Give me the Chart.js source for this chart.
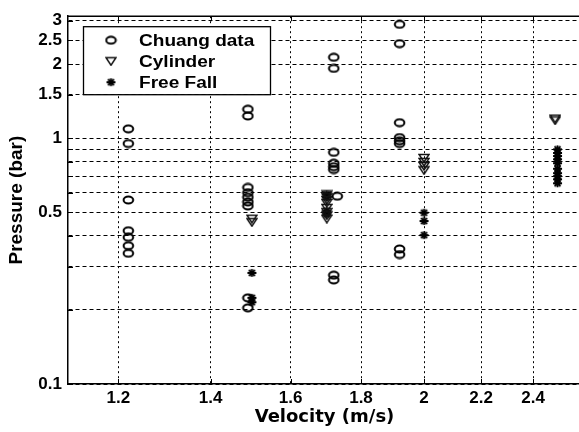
<!DOCTYPE html>
<html><head><meta charset="utf-8">
<script src="https://cdn.jsdelivr.net/npm/chart.js@4/dist/chart.umd.min.js"></script>
<style>html,body{margin:0;padding:0;background:#fff;overflow:hidden;width:579px;height:432px}canvas{display:block}</style>
</head><body>
<canvas id="c" width="600" height="432" style="width:600px;height:432px"></canvas>
<script>
// ---- data (velocity m/s, pressure bar) ----
const chuangVel  = [1.22,1.22,1.22,1.22,1.22,1.22,1.22,
                    1.49,1.49,1.49,1.49,1.49,1.49,1.49,1.49,1.49,
                    1.72,1.72,1.72,1.72,1.72,1.72,1.73,1.72,1.72,
                    1.92,1.92,1.92,1.92,1.92,1.92,1.92,1.92];
const chuangPres = [1.09,0.95,0.56,0.42,0.395,0.365,0.34,
                    1.31,1.23,0.63,0.60,0.575,0.55,0.53,0.224,0.204,
                    2.13,1.92,0.875,0.79,0.765,0.745,0.58,0.277,0.265,
                    2.90,2.42,1.155,1.005,0.975,0.95,0.354,0.336];
const cylVel  = [1.5,1.5, 1.7,1.7,1.7,1.7,1.7,1.7,1.7,1.7, 2.0,2.0,2.0,2.0, 2.49,2.49];
const cylPres = [0.47,0.455, 0.59,0.575,0.56,0.545,0.52,0.50,0.485,0.47, 0.83,0.80,0.77,0.74, 1.20,1.18];
const ffVel  = [1.5,1.5,1.5, 1.7,1.7,1.7,1.7, 2.0,2.0,2.0, 2.5,2.5,2.5,2.5,2.5,2.5,2.5,2.5,2.5,2.5];
const ffPres = [0.283,0.224,0.215, 0.59,0.575,0.505,0.49, 0.497,0.46,0.403, 0.90,0.87,0.845,0.82,0.79,0.75,0.72,0.70,0.68,0.655];
const seriesNames = ['Chuang data','Cylinder','Free Fall'];
const xTickValues = [1.2,1.4,1.6,1.8,2,2.2,2.4];
const xTickLabels = ['1.2','1.4','1.6','1.8','2','2.2','2.4'];
const yTickValues = [0.1,0.2,0.3,0.4,0.5,0.6,0.7,0.8,0.9,1,1.5,2,2.5,3];
const yTickLabels = ['0.1','','','','0.5','','','','','1','1.5','2','2.5','3'];

// ---- marker images ----
function mk(w,h,draw){const c=document.createElement('canvas');c.width=w;c.height=h;const g=c.getContext('2d');draw(g);return c;}
const circleMarker = mk(13,10,g=>{g.strokeStyle='#000';g.lineWidth=2;g.beginPath();g.ellipse(6.5,5,4.8,3.5,0,0,Math.PI*2);g.stroke();});
const triMarker = mk(12,10,g=>{g.strokeStyle='#111';g.lineWidth=1.5;g.beginPath();g.moveTo(1,1.5);g.lineTo(11,1.5);g.lineTo(6,9);g.closePath();g.stroke();});
const starMarker = mk(11,10,g=>{g.strokeStyle='#000';g.lineWidth=1.8;g.beginPath();
  g.moveTo(1,5);g.lineTo(10,5);g.moveTo(5.5,1);g.lineTo(5.5,9);
  g.moveTo(2.5,2);g.lineTo(8.5,8);g.moveTo(8.5,2);g.lineTo(2.5,8);g.stroke();});
const markers = [circleMarker, triMarker, starMarker];

const pts = (xs,ys)=>xs.map((v,i)=>({x:v,y:ys[i]}));
const FONT = '"Liberation Sans", Arial, sans-serif';

const frame = {
  id:'frame',
  afterDraw(chart){
    const {ctx, chartArea:a, scales:{x,y}} = chart;
    ctx.save();
    ctx.strokeStyle='#000'; ctx.lineWidth=1.5;
    ctx.beginPath(); ctx.moveTo(a.left,a.top); ctx.lineTo(a.right,a.top); ctx.stroke();
    ctx.lineWidth=1;
    ctx.beginPath();
    xTickValues.forEach(v=>{const p=Math.round(x.getPixelForValue(v))+0.5;
      ctx.moveTo(p,a.bottom); ctx.lineTo(p,a.bottom-5); ctx.moveTo(p,a.top); ctx.lineTo(p,a.top+5);});
    yTickValues.forEach(v=>{const p=Math.round(y.getPixelForValue(v))+0.5;
      ctx.moveTo(a.left,p); ctx.lineTo(a.left+5,p);});
    ctx.stroke();
    // legend
    const L=a.left+15, T=a.top+10, W=187, H=68;
    ctx.fillStyle='#fff'; ctx.fillRect(L,T,W,H);
    ctx.strokeStyle='#000'; ctx.lineWidth=1.3; ctx.strokeRect(L+0.5,T+0.5,W,H);
    seriesNames.forEach((name,i)=>{
      const cy=T+14+i*21;
      const m=markers[i];
      ctx.drawImage(m, L+28-m.width/2, cy-m.height/2);
      ctx.save(); ctx.translate(L+56,cy+1); ctx.scale(1.19,1);
      ctx.fillStyle='#000'; ctx.font='bold 16px '+FONT; ctx.textBaseline='middle';
      ctx.fillText(name,0,0); ctx.restore();
    });
    ctx.restore();
  }
};

new Chart(document.getElementById('c'), {
  type:'scatter',
  data:{datasets:[
    {label:seriesNames[0], data:pts(chuangVel,chuangPres), pointStyle:circleMarker, pointRadius:4},
    {label:seriesNames[1], data:pts(cylVel,cylPres), pointStyle:triMarker, pointRadius:4},
    {label:seriesNames[2], data:pts(ffVel,ffPres), pointStyle:starMarker, pointRadius:4}
  ]},
  options:{
    responsive:false, animation:false, devicePixelRatio:1,
    layout:{padding:{top:9,right:19,left:0,bottom:0}},
    plugins:{legend:{display:false}, tooltip:{enabled:false}},
    scales:{
      x:{type:'logarithmic', min:1.103, max:2.6, bounds:'data',
        afterBuildTicks:s=>{s.ticks=xTickValues.map(v=>({value:v}));},
        afterFit:s=>{s.height=48;},
        ticks:{autoSkip:false, maxRotation:0, padding:4, color:'#000',
          font:{family:FONT, size:17, weight:'bold'},
          callback:(v,i)=>xTickLabels[i]},
        grid:{color:'#000', lineWidth:1, drawTicks:false},
        border:{display:true, color:'#000', width:1.5, dash:[2,3]},
        title:{display:true, text:'Velocity (m/s)', color:'#000',
          font:{family:'"DejaVu Sans", sans-serif', size:18, weight:'bold'}, padding:{top:0,bottom:4}}
      },
      y:{type:'logarithmic', min:0.1, max:3.13, bounds:'data',
        afterBuildTicks:s=>{s.ticks=yTickValues.map(v=>({value:v}));},
        afterFit:s=>{s.width=68;},
        ticks:{autoSkip:false, padding:6, color:'#000',
          font:{family:FONT, size:17, weight:'bold'},
          callback:(v,i)=>yTickLabels[i]},
        grid:{color:'#000', lineWidth:1, drawTicks:false},
        border:{display:true, color:'#000', width:1.5, dash:[4,3]},
        title:{display:true, text:'Pressure (bar)', color:'#000',
          font:{family:FONT, size:19, weight:'bold'}, padding:{top:5,bottom:0}}
      }
    }
  },
  plugins:[frame]
});
</script>
</body></html>
